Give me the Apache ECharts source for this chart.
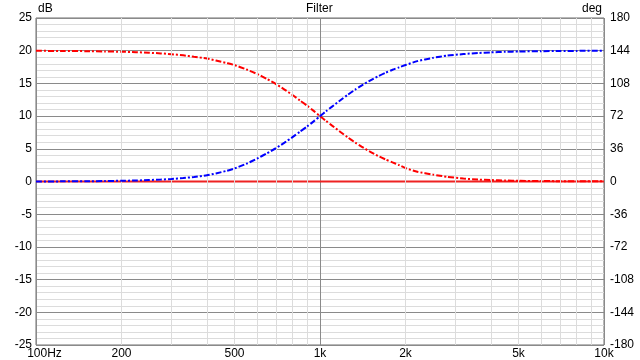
<!DOCTYPE html>
<html>
<head>
<meta charset="utf-8">
<script src="https://cdn.jsdelivr.net/npm/echarts@6/dist/echarts.min.js"></script>
<style>
html,body{margin:0;padding:0;background:#fff;}
#chart{width:640px;height:360px;}
</style>
</head>
<body>
<div id="chart"></div>
<script>
// Frequencies (Hz)
const freqs = [100,125,150,175,200,225,250,275,300,330,360,400,430,470,500,550,600,650,700,750,800,850,900,950,1000,1050,1100,1180,1250,1330,1400,1500,1600,1700,1800,1900,2000,2200,2500,2800,3200,3600,4000,4500,5000,6000,7000,8000,10000];
// Red dash-dot curve (dB, left axis)
const redDb = [19.98,19.96,19.93,19.89,19.84,19.78,19.69,19.59,19.47,19.29,19.07,18.8,18.5,18.1,17.8,17.14,16.45,15.68,14.9,14.06,13.23,12.39,11.6,10.8,10.0,9.26,8.58,7.58,6.77,5.96,5.34,4.57,3.92,3.38,2.92,2.5,2.05,1.5,1.05,0.72,0.45,0.3,0.22,0.15,0.11,0.07,0.05,0.03,0.02];
// Blue dash-dot curve (deg, right axis)
const blueDeg = [0.1,0.15,0.3,0.5,0.8,1.1,1.6,2.1,2.8,3.8,5.0,6.9,8.9,11.8,14.4,19.5,25.2,31.0,36.7,42.8,48.8,54.8,60.5,66.2,72.0,77.3,82.2,89.4,95.3,101.1,105.6,111.1,115.8,119.7,123.0,125.7,128.2,132.5,136.1,138.6,140.3,141.5,142.2,142.8,143.1,143.5,143.7,143.8,143.9];
// Solid red reference line (dB)
const zeroFreqs = [100,10000];
const zeroDb = [0,0];
// Axis labels / grid
const xLabelValues = [100,200,500,1000,2000,5000,10000];
const xLabelText = ['100Hz','200','500','1k','2k','5k','10k'];
const minorFreqs = [200,300,400,500,600,700,800,900,2000,3000,4000,5000,6000,7000,8000,9000];

const font = 'Liberation Sans, Arial, sans-serif';
const chart = echarts.init(document.getElementById('chart'), null, {renderer:'canvas'});
const labelMap = {};
xLabelValues.forEach((v,i)=>{labelMap[v]=xLabelText[i];});

chart.setOption({
  animation:false,
  backgroundColor:'#fff',
  grid:{left:36,right:36,top:18,bottom:15,show:true,borderColor:'#6e6e6e',borderWidth:1,backgroundColor:'transparent'},
  graphic:[
    {type:'text',left:306,top:3,style:{text:'Filter',font:'12px '+font,fill:'#000'}},
    {type:'text',left:38,top:3,style:{text:'dB',font:'12px '+font,fill:'#000'}},
    {type:'text',left:582,top:3,style:{text:'deg',font:'12px '+font,fill:'#000'}}
  ],
  xAxis:{
    type:'log',logBase:10,min:100,max:10000,
    axisLine:{show:false},
    axisTick:{show:false},
    splitLine:{show:true,lineStyle:{color:'#8a8a8a',width:1}},
    axisLabel:{
      customValues:xLabelValues,
      margin:3,color:'#000',fontSize:12,fontFamily:font,
      formatter:function(v){
        const t = labelMap[Math.round(v)] || '';
        return Math.round(v)===100 ? '{a|'+t+'}' : t;
      },
      rich:{a:{padding:[0,0,0,17],fontSize:12,fontFamily:font,color:'#000'}}
    }
  },
  yAxis:[
    {type:'value',min:-25,max:25,interval:5,
     axisLine:{show:false},axisTick:{show:false},
     axisLabel:{margin:4,color:'#000',fontSize:12,fontFamily:font},
     splitLine:{show:true,lineStyle:{color:'#8a8a8a',width:1}},
     minorTick:{show:false,splitNumber:5},
     minorSplitLine:{show:true,lineStyle:{color:'#dcdcdc',width:1}}
    },
    {type:'value',min:-180,max:180,interval:36,position:'right',
     axisLine:{show:false},axisTick:{show:false},
     axisLabel:{margin:6,color:'#000',fontSize:12,fontFamily:font},
     splitLine:{show:false}
    }
  ],
  series:[
    {type:'line',data:[],z:1,silent:true,
     markLine:{silent:true,symbol:['none','none'],label:{show:false},animation:false,
       lineStyle:{color:'#dcdcdc',type:'solid',width:1},
       data:minorFreqs.map(f=>({xAxis:f}))}
    },
    {type:'line',data:zeroFreqs.map((f,i)=>[f,zeroDb[i]]),yAxisIndex:0,symbol:'none',z:3,
     lineStyle:{color:'#ee2222',width:2,type:'solid'}},
    {type:'line',data:freqs.map((f,i)=>[f,redDb[i]]),yAxisIndex:0,symbol:'none',smooth:0.2,z:4,
     lineStyle:{color:'#ff0000',width:2,type:[6,2,2,2]}},
    {type:'line',data:freqs.map((f,i)=>[f,blueDeg[i]]),yAxisIndex:1,symbol:'none',smooth:0.2,z:5,
     lineStyle:{color:'#0000ff',width:2,type:[6,2,2,2]}}
  ]
});
</script>
</body>
</html>
